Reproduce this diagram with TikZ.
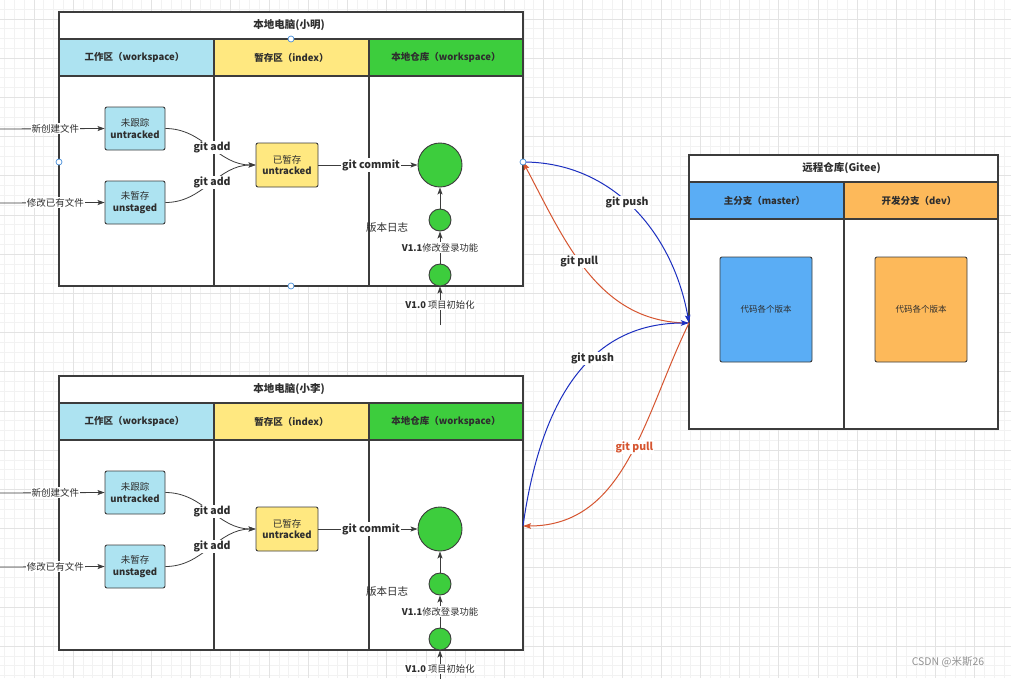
\documentclass[tikz,border=0pt]{standalone}
\usepackage{fontspec}
\setmainfont{Noto Sans CJK SC}
\usetikzlibrary{arrows.meta}
\definecolor{lblue}{HTML}{ADE3F1}
\definecolor{lyellow}{HTML}{FFE880}
\definecolor{lgreen}{HTML}{3DCD3D}
\definecolor{mblue}{HTML}{5AADF5}
\definecolor{morange}{HTML}{FDB95A}
\definecolor{edgec}{HTML}{3C3C3C}
\definecolor{pushc}{HTML}{1C2FC0}
\definecolor{pullc}{HTML}{D65530}
\definecolor{txtc}{HTML}{2E2E2E}
\definecolor{gridminor}{HTML}{F2F2F2}
\definecolor{gridmajor}{HTML}{E3E3E3}
\definecolor{handlec}{HTML}{4A90D9}
\tikzset{
  x=1pt, y=-1pt,
  frame/.style={draw=edgec, line width=1.2pt},
  statebox/.style={draw=edgec, line width=0.9pt, rounded corners=2pt, minimum width=60pt, minimum height=43pt, align=center, inner sep=0pt, text=txtc, font=\fontsize{9.5}{11.5}\selectfont},
  commitbig/.style={circle, draw=edgec, line width=0.9pt, fill=lgreen, minimum size=44pt, inner sep=0pt},
  commitsmall/.style={circle, draw=edgec, line width=0.9pt, fill=lgreen, minimum size=22pt, inner sep=0pt},
  flow/.style={draw=edgec, line width=0.8pt, -{Stealth[length=7pt,width=5pt,inset=1.5pt]}},
  lbl/.style={fill=white, inner sep=1pt, text=txtc, font=\fontsize{9.5}{11}\selectfont},
  gitlbl/.style={fill=white, inner sep=1pt, text=txtc, font=\fontsize{10.5}{12}\selectfont\bfseries},
  verlbl/.style={fill=white, inner sep=1pt, text=txtc, font=\fontsize{9.3}{11}\selectfont},
  headtxt/.style={text=txtc, font=\fontsize{9.5}{11}\selectfont\bfseries},
  titletxt/.style={text=txtc, font=\fontsize{10.5}{12}\selectfont\bfseries},
  pushline/.style={draw=pushc, line width=1pt, -{Stealth[length=8pt,width=5.5pt,inset=1.5pt]}},
  pullline/.style={draw=pullc, line width=1pt, -{Stealth[length=8pt,width=5.5pt,inset=1.5pt]}},
  handle/.style={circle, draw=handlec, fill=white, line width=0.7pt, minimum size=6pt, inner sep=0pt},
}
\newcommand\localpc[3]{%
\begin{scope}[shift={(0,#2)}]
  \fill[white] (59,0) rectangle (523,274);
  \fill[lblue] (59,27) rectangle (214,64);
  \fill[lyellow] (214,27) rectangle (369,64);
  \fill[lgreen] (369,27) rectangle (523,64);
  \draw[frame] (59,0) rectangle (523,274);
  \draw[frame] (59,27) -- (523,27);
  \draw[frame] (59,64) -- (523,64);
  \draw[frame] (214,27) -- (214,274);
  \draw[frame] (369,27) -- (369,274);
  \node[titletxt] (title#1) at (289,13.5) {#3};
  \node[headtxt] (hw#1) at (134.5,45.5) {工作区（workspace）};
  \node[headtxt] (hi#1) at (291.5,45.5) {暂存区（index）};
  \node[headtxt] (hr#1) at (446,45.5) {本地仓库（workspace）};
  \coordinate (pce#1) at (523,150);
  \coordinate (nf#1) at (0,117);
  \coordinate (mf#1) at (0,191);
  \coordinate (in#1) at (440,313);
  \node[statebox, fill=lblue] (ut#1) at (135,116.5) {未跟踪\\\textbf{untracked}};
  \node[statebox, fill=lblue] (us#1) at (135,190.5) {未暂存\\\textbf{unstaged}};
  \node[statebox, fill=lyellow, minimum width=62pt, minimum height=44pt] (st#1) at (287,153) {已暂存\\\textbf{untracked}};
  \node[commitbig] (big#1) at (440,153) {};
  \node[commitsmall] (cb#1) at (440,208) {};
  \node[commitsmall] (ca#1) at (440,263) {};
  \node[lbl, fill=none, font=\fontsize{10.5}{12}\selectfont] (log#1) at (387,216) {版本日志};
  \draw[flow] (nf#1) -- node[lbl, pos=0.53] {新创建文件} (ut#1.west);
  \draw[flow] (mf#1) -- node[lbl, pos=0.53] {修改已有文件} (us#1.west);
  \draw[flow] (ut#1.east) to[out=0, in=180] node[gitlbl, pos=0.52] {git add} (st#1.west);
  \draw[flow] (us#1.east) to[out=0, in=180] node[gitlbl, pos=0.52] {git add} (st#1.west);
  \draw[flow] (st#1.east) -- node[gitlbl, pos=0.53] {git commit} (big#1.west);
  \draw[flow] (cb#1.north) -- (big#1.south);
  \draw[flow] (ca#1.north) -- node[verlbl] {\textbf{V1.1}修改登录功能} (cb#1.south);
  \draw[flow] (in#1) -- node[verlbl, pos=0.52] {\textbf{V1.0} 项目初始化} (ca#1.south);
\end{scope}}
\begin{document}
\begin{tikzpicture}
\useasboundingbox (0,0) rectangle (1011,678);
\fill[white] (0,0) rectangle (1011,678);
% grid
\foreach \i in {0,...,103} {\draw[gridminor, line width=0.5pt] ({4.4+\i*9.8},0) -- ({4.4+\i*9.8},678);}
\foreach \j in {0,...,69} {\draw[gridminor, line width=0.5pt] (0,{9+\j*9.8}) -- (1011,{9+\j*9.8});}
\foreach \i in {3,7,...,103} {\draw[gridmajor, line width=0.6pt] ({4.4+\i*9.8},0) -- ({4.4+\i*9.8},678);}
\foreach \j in {1,5,...,69} {\draw[gridmajor, line width=0.6pt] (0,{9+\j*9.8}) -- (1011,{9+\j*9.8});}

\localpc{A}{12}{本地电脑(小明)}
\localpc{B}{376}{本地电脑(小李)}

% remote repository
\fill[white] (689,155) rectangle (998,429);
\fill[mblue] (689,182) rectangle (844,219);
\fill[morange] (844,182) rectangle (998,219);
\draw[frame] (689,155) rectangle (998,429);
\draw[frame] (689,182) -- (998,182);
\draw[frame] (689,219) -- (998,219);
\draw[frame] (844,182) -- (844,429);
\node[titletxt] (rtitle) at (841.5,168.5) {远程仓库(Gitee)};
\node[headtxt] (rmaster) at (764.5,200.5) {主分支（master）};
\node[headtxt] (rdev) at (919,200.5) {开发分支（dev）};
\node[draw=edgec, line width=0.9pt, rounded corners=2pt, fill=mblue, minimum width=92pt, minimum height=105pt, inner sep=0pt, text=txtc, font=\fontsize{8.5}{10}\selectfont] (vmaster) at (766,309.5) {代码各个版本};
\node[draw=edgec, line width=0.9pt, rounded corners=2pt, fill=morange, minimum width=92pt, minimum height=105pt, inner sep=0pt, text=txtc, font=\fontsize{8.5}{10}\selectfont] (vdev) at (921,309.5) {代码各个版本};
\coordinate (rmp) at (689,323);

% push / pull
\draw[pullline] (rmp) to[out=180, in=-62] node[gitlbl, pos=0.56] {git pull} (pceA);
\draw[pushline] (pceA) to[out=0, in=100] node[gitlbl, pos=0.46] {git push} (rmp);
\draw[pushline] (pceB) to[out=82, in=180, out looseness=1.35, in looseness=0.9] node[gitlbl, pos=0.58] {git push} (rmp);
\draw[pullline] (rmp) to[out=-116, in=0] node[gitlbl, text=pullc, pos=0.45] {git pull} (pceB);

% selection handles
\node[handle] (h1) at (291,39) {};
\node[handle] (h2) at (59,162) {};
\node[handle] (h3) at (523,162) {};
\node[handle] (h4) at (291,286) {};

% watermark
\node[text=gray!85, font=\fontsize{10.5}{12}\selectfont] (wm) at (948,662) {CSDN @米斯26};
\end{tikzpicture}
\end{document}
